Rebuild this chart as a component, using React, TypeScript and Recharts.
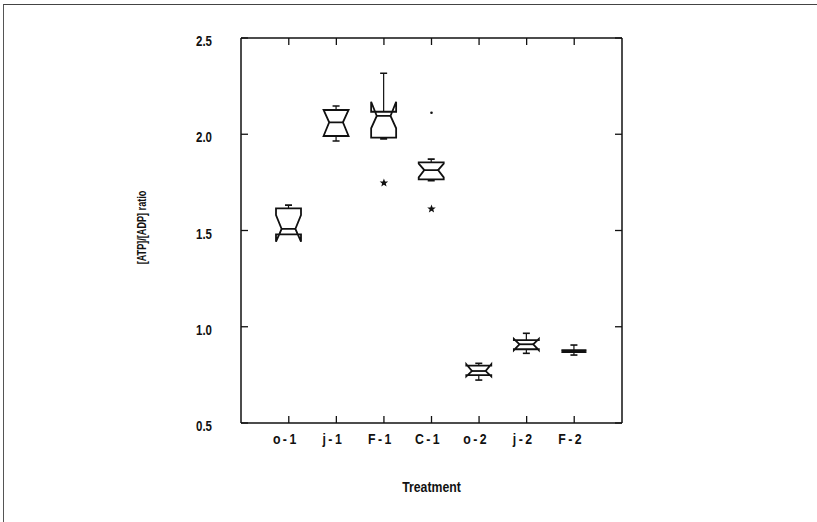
import React from 'react';
import { ComposedChart, Bar, Scatter, XAxis, YAxis, Label } from 'recharts';

// treatments along the x axis
const categories = ['o-1', 'j-1', 'F-1', 'C-1', 'o-2', 'j-2', 'F-2'];

// box statistics, one value per treatment
const whiskerLow = [1.48, 1.965, 1.976, 1.759, 0.723, 0.862, 0.853];
const lowerHinge = [1.48, 1.991, 1.982, 1.766, 0.749, 0.883, 0.868];
const medians = [1.508, 2.062, 2.095, 1.814, 0.77, 0.909, 0.873];
const upperHinge = [1.615, 2.126, 2.117, 1.854, 0.798, 0.931, 0.878];
const whiskerHigh = [1.632, 2.147, 2.317, 1.871, 0.81, 0.966, 0.905];
const notchLow = [1.442, 1.991, 2.031, 1.776, 0.742, 0.878, 0.868];
const notchHigh = [1.58, 2.126, 2.169, 1.847, 0.805, 0.937, 0.878];

// outside values: stars = outliers, dots = far outliers
const starValues = [null, null, 1.747, 1.612, null, null, null];
const dotValues = [null, null, null, 2.112, null, null, null];

const yTicks = [0.5, 1.0, 1.5, 2.0, 2.5];

const data = categories.map((name, i) => ({
  name,
  lo: whiskerLow[i],
  q1: lowerHinge[i],
  med: medians[i],
  q3: upperHinge[i],
  hi: whiskerHigh[i],
  nLo: notchLow[i],
  nHi: notchHigh[i],
  star: starValues[i],
  dot: dotValues[i],
}));

const ink = '#111';
const TICK = 7;

// a narrow bold sans, emulated by squeezing Liberation Sans Bold
function NarrowText({ x, y, size, anchor = 'middle', rotate = 0, spacing = 0, squeeze = 0.82, children }: any) {
  return (
    <text
      transform={`translate(${x},${y}) rotate(${rotate}) scale(${squeeze},1)`}
      textAnchor={anchor}
      fontFamily="Liberation Sans, Arial, sans-serif"
      fontWeight={700}
      fontSize={size}
      letterSpacing={spacing}
      fill={ink}
    >
      {children}
    </text>
  );
}

function NotchedBox(props: any) {
  const { x, y, width, height, payload } = props;
  if (x == null || y == null) return <g />;
  const top = Math.min(y, y + height);
  const bottom = Math.max(y, y + height);
  const k = (bottom - top) / (payload.hi - payload.lo);
  // same linear scale as the bar range -> pixel for any value
  const py = (v: number) => bottom - (v - payload.lo) * k;
  const cx = x + width / 2;
  const hw = width / 2;
  const nw = hw * 0.55;
  const L = cx - hw;
  const R = cx + hw;
  const pts = [
    [L, py(payload.q3)],
    [L, py(payload.nHi)],
    [cx - nw, py(payload.med)],
    [L, py(payload.nLo)],
    [L, py(payload.q1)],
    [R, py(payload.q1)],
    [R, py(payload.nLo)],
    [cx + nw, py(payload.med)],
    [R, py(payload.nHi)],
    [R, py(payload.q3)],
  ];
  const d = 'M' + pts.map((p) => p[0] + ',' + p[1]).join('L') + 'Z';
  const cap = 3.5;
  return (
    <g>
      {payload.hi > payload.q3 && (
        <g stroke={ink} strokeWidth={1.2}>
          <line x1={cx} x2={cx} y1={py(payload.q3)} y2={py(payload.hi)} />
          <line x1={cx - cap} x2={cx + cap} y1={py(payload.hi)} y2={py(payload.hi)} strokeWidth={1.6} />
        </g>
      )}
      {payload.lo < payload.q1 && (
        <g stroke={ink} strokeWidth={1.2}>
          <line x1={cx} x2={cx} y1={py(payload.q1)} y2={py(payload.lo)} />
          <line x1={cx - cap} x2={cx + cap} y1={py(payload.lo)} y2={py(payload.lo)} strokeWidth={1.6} />
        </g>
      )}
      <path d={d} fill="#fff" stroke={ink} strokeWidth={1.8} strokeLinejoin="miter" />
      <line x1={cx - nw} x2={cx + nw} y1={py(payload.med)} y2={py(payload.med)} stroke={ink} strokeWidth={1.8} />
    </g>
  );
}

function StarMark(props: any) {
  const { cx, cy } = props;
  if (cx == null || cy == null || isNaN(cy)) return <g />;
  const pts: string[] = [];
  for (let i = 0; i < 10; i++) {
    const r = i % 2 === 0 ? 4.5 : 1.9;
    const a = -Math.PI / 2 + (i * Math.PI) / 5;
    pts.push(cx + r * Math.cos(a) + ',' + (cy + r * Math.sin(a)));
  }
  return <polygon points={pts.join(' ')} fill={ink} />;
}

function DotMark(props: any) {
  const { cx, cy } = props;
  if (cx == null || cy == null || isNaN(cy)) return <g />;
  return <circle cx={cx} cy={cy} r={1.3} fill={ink} />;
}

// inward ticks drawn by hand, with label outside
function BottomTick(props: any) {
  const { x, y, payload } = props;
  return (
    <g>
      <line x1={x} x2={x} y1={y} y2={y - TICK} stroke={ink} strokeWidth={1.3} />
      <NarrowText x={x - 3} y={y + 21} size={15} spacing={3}>
        {payload.value}
      </NarrowText>
    </g>
  );
}

function TopTick(props: any) {
  const { x, y } = props;
  return <line x1={x} x2={x} y1={y} y2={y + TICK} stroke={ink} strokeWidth={1.3} />;
}

function LeftTick(props: any) {
  const { x, y, payload } = props;
  return (
    <g>
      <line x1={x} x2={x + TICK} y1={y} y2={y} stroke={ink} strokeWidth={1.3} />
      <NarrowText x={x - 29} y={y + 8} size={14} anchor="end">
        {Number(payload.value).toFixed(1)}
      </NarrowText>
    </g>
  );
}

function RightTick(props: any) {
  const { x, y } = props;
  return <line x1={x} x2={x - TICK} y1={y} y2={y} stroke={ink} strokeWidth={1.3} />;
}

function XTitle(props: any) {
  const vb = props.viewBox;
  return (
    <NarrowText x={vb.x + vb.width / 2} y={vb.y + vb.height + 39} size={15}>
      Treatment
    </NarrowText>
  );
}

function YTitle(props: any) {
  const vb = props.viewBox;
  return (
    <NarrowText x={vb.x - 35} y={vb.y + vb.height / 2 - 3} size={12} squeeze={0.76} rotate={-90}>
      [ATP]/[ADP] ratio
    </NarrowText>
  );
}

export default function App() {
  return (
    <div style={{ position: 'fixed', left: 0, top: 0, width: 817, height: 522, background: '#fff' }}>
      <div
        style={{
          position: 'absolute',
          left: 3,
          top: 4,
          right: 0,
          bottom: 0,
          borderTop: '1.5px solid #444',
          borderLeft: '1.5px solid #555',
        }}
      />
      <ComposedChart
        width={817}
        height={522}
        data={data}
        margin={{ top: 28, right: 185, bottom: 69, left: 181 }}
        style={{ position: 'absolute', left: 0, top: 0 }}
      >
        <XAxis
          dataKey="name"
          type="category"
          padding={{ left: 24, right: 24 }}
          height={30}
          tickSize={0}
          tickMargin={0}
          tick={<BottomTick />}
          tickLine={false}
          axisLine={{ stroke: ink, strokeWidth: 1.5 }}
          interval={0}
        >
          <Label content={<XTitle />} />
        </XAxis>
        <XAxis
          xAxisId="t"
          dataKey="name"
          type="category"
          orientation="top"
          padding={{ left: 24, right: 24 }}
          height={10}
          tickSize={0}
          tickMargin={0}
          tick={<TopTick />}
          tickLine={false}
          axisLine={{ stroke: ink, strokeWidth: 1.5 }}
          interval={0}
        />
        <YAxis
          type="number"
          domain={[0.5, 2.5]}
          ticks={yTicks}
          allowDataOverflow
          width={60}
          tickSize={0}
          tickMargin={0}
          tick={<LeftTick />}
          tickLine={false}
          axisLine={{ stroke: ink, strokeWidth: 1.5 }}
        >
          <Label content={<YTitle />} />
        </YAxis>
        <YAxis
          yAxisId="r"
          orientation="right"
          type="number"
          domain={[0.5, 2.5]}
          ticks={yTicks}
          allowDataOverflow
          width={10}
          tickSize={0}
          tickMargin={0}
          tick={<RightTick />}
          tickLine={false}
          axisLine={{ stroke: ink, strokeWidth: 1.5 }}
        />
        <Bar
          dataKey={(d: any) => [d.lo, d.hi]}
          barSize={25}
          shape={<NotchedBox />}
          isAnimationActive={false}
        />
        <Scatter dataKey="star" shape={<StarMark />} isAnimationActive={false} />
        <Scatter dataKey="dot" shape={<DotMark />} isAnimationActive={false} />
      </ComposedChart>
    </div>
  );
}
